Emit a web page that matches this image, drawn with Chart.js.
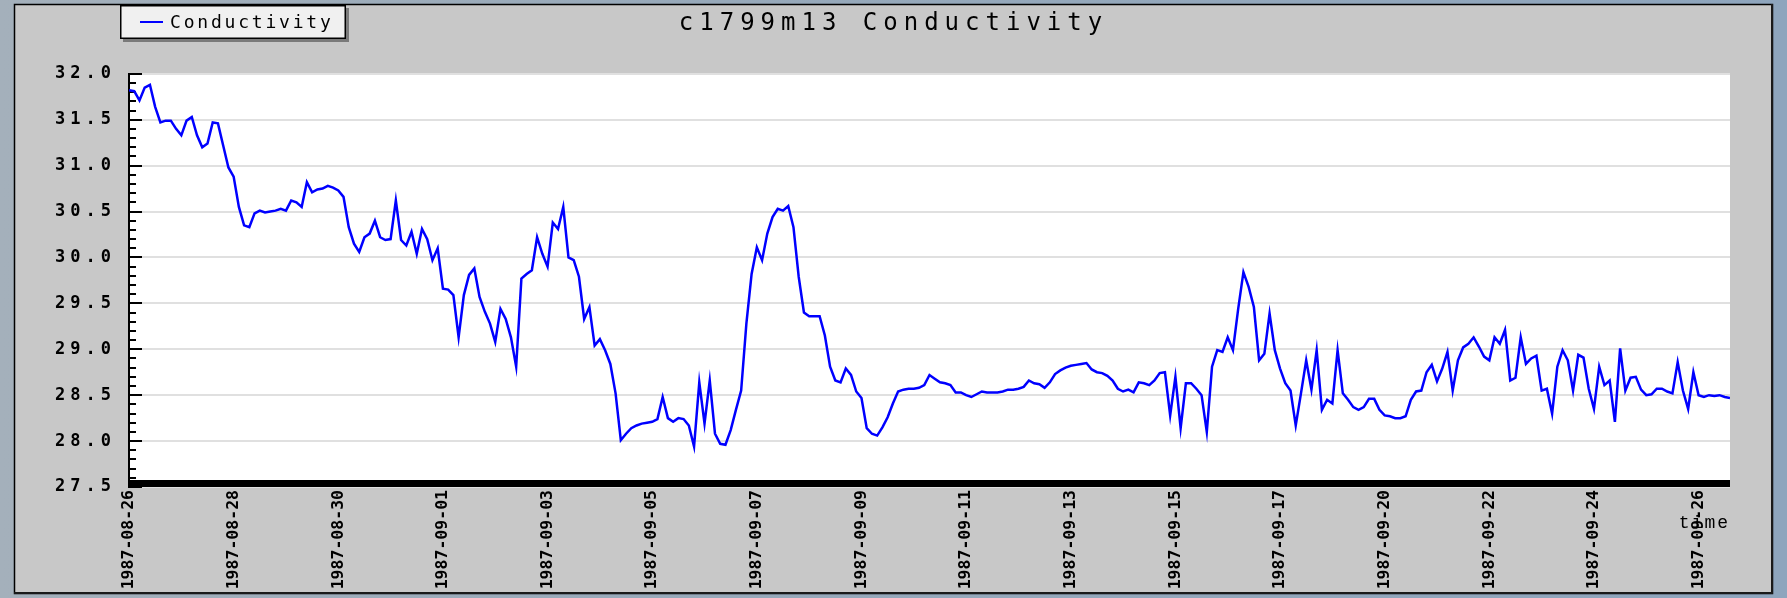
<!DOCTYPE html>
<html>
<head>
<meta charset="utf-8">
<title>c1799m13 Conductivity</title>
<script src="https://cdn.jsdelivr.net/npm/chart.js@4"></script>
<style>
  html, body { margin: 0; padding: 0; overflow: hidden; }
  body {
    width: 1787px; height: 598px;
    background: linear-gradient(90deg, #a4b0bb 0%, #97a9ba 40%, #8ea5bd 100%);
  }
  #wrap { position: absolute; left: 0; top: 0; width: 1787px; height: 598px; }
</style>
</head>
<body>
<div id="wrap"><canvas id="chart"></canvas></div>
<script>
// Conductivity samples, evenly spaced in sample number
const conductivity = [
  31.82, 31.81, 31.71, 31.85, 31.88, 31.64, 31.47, 31.49, 31.49, 31.40,
  31.33, 31.49, 31.53, 31.33, 31.20, 31.24, 31.47, 31.46, 31.22, 30.98,
  30.88, 30.55, 30.35, 30.33, 30.48, 30.51, 30.49, 30.50, 30.51, 30.53,
  30.51, 30.62, 30.60, 30.55, 30.82, 30.71, 30.74, 30.75, 30.78, 30.76,
  30.73, 30.66, 30.33, 30.15, 30.06, 30.22, 30.26, 30.40, 30.22, 30.19,
  30.20, 30.62, 30.19, 30.13, 30.28, 30.04, 30.31, 30.20, 29.97, 30.10,
  29.66, 29.65, 29.59, 29.13, 29.59, 29.81, 29.88, 29.57, 29.41, 29.28,
  29.08, 29.44, 29.33, 29.13, 28.81, 29.77, 29.82, 29.86, 30.22, 30.04,
  29.90, 30.38, 30.31, 30.55, 30.00, 29.97, 29.79, 29.33, 29.46, 29.04,
  29.11, 28.99, 28.84, 28.52, 28.01, 28.08, 28.14, 28.17, 28.19, 28.20,
  28.21, 28.24, 28.48, 28.25, 28.21, 28.25, 28.24, 28.17, 27.94, 28.64,
  28.19, 28.66, 28.08, 27.97, 27.96, 28.12, 28.34, 28.55, 29.28, 29.82,
  30.11, 29.97, 30.26, 30.44, 30.53, 30.51, 30.56, 30.33, 29.79, 29.40,
  29.36, 29.36, 29.36, 29.15, 28.81, 28.66, 28.64, 28.79, 28.72, 28.54,
  28.47, 28.14, 28.08, 28.06, 28.15, 28.26, 28.41, 28.54, 28.56, 28.57,
  28.57, 28.58, 28.61, 28.72, 28.68, 28.64, 28.63, 28.61, 28.53, 28.53,
  28.50, 28.48, 28.51, 28.54, 28.53, 28.53, 28.53, 28.54, 28.56, 28.56,
  28.57, 28.59, 28.66, 28.63, 28.62, 28.58, 28.64, 28.73, 28.77, 28.80,
  28.82, 28.83, 28.84, 28.85, 28.78, 28.75, 28.74, 28.71, 28.66, 28.57,
  28.54, 28.56, 28.53, 28.64, 28.63, 28.61, 28.66, 28.74, 28.75, 28.28,
  28.70, 28.14, 28.63, 28.63, 28.57, 28.50, 28.10, 28.81, 28.99, 28.97,
  29.13, 28.99, 29.44, 29.84, 29.68, 29.46, 28.88, 28.95, 29.39, 28.99,
  28.79, 28.63, 28.55, 28.17, 28.52, 28.88, 28.56, 28.99, 28.34, 28.45,
  28.41, 28.99, 28.52, 28.45, 28.37, 28.34, 28.37, 28.46, 28.46, 28.34,
  28.28, 28.27, 28.25, 28.25, 28.27, 28.45, 28.54, 28.55, 28.75, 28.83,
  28.65, 28.79, 28.97, 28.55, 28.88, 29.02, 29.06, 29.13, 29.03, 28.92,
  28.88, 29.13, 29.06, 29.21, 28.66, 28.69, 29.13, 28.84, 28.90, 28.93,
  28.55, 28.57, 28.30, 28.81, 28.99, 28.88, 28.55, 28.94, 28.91, 28.57,
  28.35, 28.81, 28.61, 28.66, 28.21, 29.01, 28.55, 28.69, 28.70, 28.56,
  28.50, 28.51, 28.57, 28.57, 28.54, 28.52, 28.86, 28.55, 28.35, 28.75,
  28.50, 28.48, 28.50, 28.49, 28.50, 28.48, 28.47
];

// Date labels, one every SAMPLES_PER_TICK samples
const tickLabels = [
  '1987-08-26', '1987-08-28', '1987-08-30', '1987-09-01',
  '1987-09-03', '1987-09-05', '1987-09-07', '1987-09-09',
  '1987-09-11', '1987-09-13', '1987-09-15', '1987-09-17',
  '1987-09-20', '1987-09-22', '1987-09-24', '1987-09-26'
];
const SAMPLES_PER_TICK = 20;

// Value axis
const yMin = 27.5;
const yMax = 32.0;
const yMajorStep = 0.5;
const yMinorStep = 0.1;

const seriesName = 'Conductivity';
const chartTitle = 'c1799m13 Conductivity';
const xAxisTitle = 'time';

const points = conductivity.map((v, i) => ({ x: i, y: v }));

// Run a draw method with extra letter spacing on its context
function withSpacing(target, method, px) {
  if (!target || target['__spaced_' + method]) return;
  const original = target[method];
  target[method] = function (...args) {
    const ctx = this.ctx;
    const prev = ctx.letterSpacing;
    ctx.letterSpacing = px + 'px';
    try { return original.apply(this, args); }
    finally { ctx.letterSpacing = prev; }
  };
  target['__spaced_' + method] = true;
}

const PANEL = { left: 14, top: 4, right: 1773, bottom: 594 };

const framePlugin = {
  id: 'frame',
  beforeDraw(chart) {
    const { ctx, chartArea: a } = chart;
    withSpacing(chart.scales.y, 'drawLabels', 5);
    withSpacing(chart.titleBlock, 'draw', 6);
    withSpacing(chart.scales.x, 'drawTitle', 2);

    ctx.save();
    const w = PANEL.right - PANEL.left, h = PANEL.bottom - PANEL.top;
    ctx.fillStyle = '#c8c8c8';
    ctx.fillRect(PANEL.left, PANEL.top, w, h);
    ctx.strokeStyle = '#000';
    ctx.lineWidth = 1.5;
    ctx.strokeRect(PANEL.left + 0.5, PANEL.top + 0.5, w - 1, h - 1);
    // heavier lower/right edge
    ctx.fillStyle = '#1a1a1a';
    ctx.fillRect(PANEL.right - 2, PANEL.top, 2, h);
    ctx.fillRect(PANEL.left, PANEL.bottom - 2, w, 2);
    // plotting area
    ctx.fillStyle = '#ffffff';
    ctx.fillRect(a.left, a.top, a.right - a.left, a.bottom - a.top);
    ctx.restore();
  },
  beforeDatasetsDraw(chart) {
    const { ctx, chartArea: a, scales: { y } } = chart;
    ctx.save();
    ctx.fillStyle = '#000';
    const n = Math.round((yMax - yMin) / yMinorStep);
    const perMajor = Math.round(yMajorStep / yMinorStep);
    for (let k = 0; k <= n; k++) {
      const py = Math.round(y.getPixelForValue(yMin + k * yMinorStep));
      const len = k % perMajor === 0 ? 13 : 7;
      ctx.fillRect(a.left, py - 1, len, 2);
    }
    ctx.restore();
  },
  afterDatasetsDraw(chart) {
    const { ctx, chartArea: a } = chart;
    ctx.save();
    ctx.fillStyle = '#000';
    ctx.fillRect(a.left - 1, a.bottom - 7, a.right - a.left + 1, 7);
    ctx.restore();
  },
  afterDraw(chart) {
    // boxed legend in the top-left corner of the panel
    const { ctx } = chart;
    const ds = chart.data.datasets[0];
    const bx = 120, by = 5, bw = 226, bh = 34;
    ctx.save();
    ctx.fillStyle = '#7a7a7a';
    ctx.fillRect(bx + 3, by + 3, bw, bh);
    ctx.fillStyle = '#f0f0f0';
    ctx.fillRect(bx, by, bw, bh);
    ctx.strokeStyle = '#000';
    ctx.lineWidth = 1.5;
    ctx.strokeRect(bx + 0.75, by + 0.75, bw - 1.5, bh - 1.5);
    ctx.strokeStyle = ds.borderColor;
    ctx.lineWidth = 2;
    ctx.beginPath();
    ctx.moveTo(bx + 20, by + 17);
    ctx.lineTo(bx + 43, by + 17);
    ctx.stroke();
    ctx.fillStyle = '#000';
    ctx.font = '18px "DejaVu Sans Mono"';
    ctx.textBaseline = 'middle';
    ctx.letterSpacing = '2.8px';
    ctx.fillText(ds.label, bx + 50, by + 18);
    ctx.restore();
  }
};

new Chart(document.getElementById('chart'), {
  type: 'line',
  data: {
    datasets: [{
      label: seriesName,
      data: points,
      borderColor: '#0000ff',
      backgroundColor: '#0000ff',
      borderWidth: 2.5,
      pointRadius: 0,
      pointHoverRadius: 0,
      tension: 0,
      fill: false
    }]
  },
  options: {
    responsive: true,
    maintainAspectRatio: false,
    animation: false,
    events: [],
    layout: { padding: { left: 14, right: 14, top: 0, bottom: 5 } },
    plugins: {
      legend: { display: false },
      tooltip: { enabled: false },
      title: {
        display: true,
        text: chartTitle,
        color: '#000',
        font: { family: '"DejaVu Sans Mono"', size: 24, weight: 'normal', lineHeight: 1.2 },
        padding: { top: 9, bottom: 36 }
      }
    },
    scales: {
      x: {
        type: 'linear',
        min: 0,
        max: conductivity.length - 1,
        afterFit(scale) { scale.height = 106; },
        afterBuildTicks(scale) {
          scale.ticks = tickLabels.map((_, k) => ({ value: k * SAMPLES_PER_TICK }));
        },
        grid: { display: false, drawTicks: false },
        border: { display: false },
        ticks: {
          autoSkip: false,
          maxRotation: 90,
          minRotation: 90,
          padding: 3,
          color: '#000',
          font: { family: '"DejaVu Sans Mono"', size: 16.5, weight: 'bold' },
          callback: (value, index) => tickLabels[index]
        },
        title: {
          display: true,
          text: xAxisTitle,
          align: 'end',
          color: '#000',
          font: { family: '"Liberation Mono"', size: 18, weight: 'normal', lineHeight: 1.2 },
          padding: { top: 0, bottom: 59 }
        }
      },
      y: {
        type: 'linear',
        position: 'left',
        min: yMin,
        max: yMax,
        afterFit(scale) { scale.width = 115; },
        grid: { color: '#e0e0e0', lineWidth: 2, drawTicks: false },
        border: { display: true, color: '#000', width: 2 },
        ticks: {
          stepSize: yMajorStep,
          padding: 13,
          color: '#000',
          font: { family: '"DejaVu Sans Mono"', size: 17, weight: 'bold' },
          callback: (v) => Number(v).toFixed(1)
        }
      },
      yRight: {
        type: 'linear',
        position: 'right',
        afterFit(scale) { scale.width = 43; },
        grid: { display: false, drawTicks: false },
        border: { display: false },
        ticks: { display: false }
      }
    }
  },
  plugins: [framePlugin]
});
</script>
</body>
</html>
